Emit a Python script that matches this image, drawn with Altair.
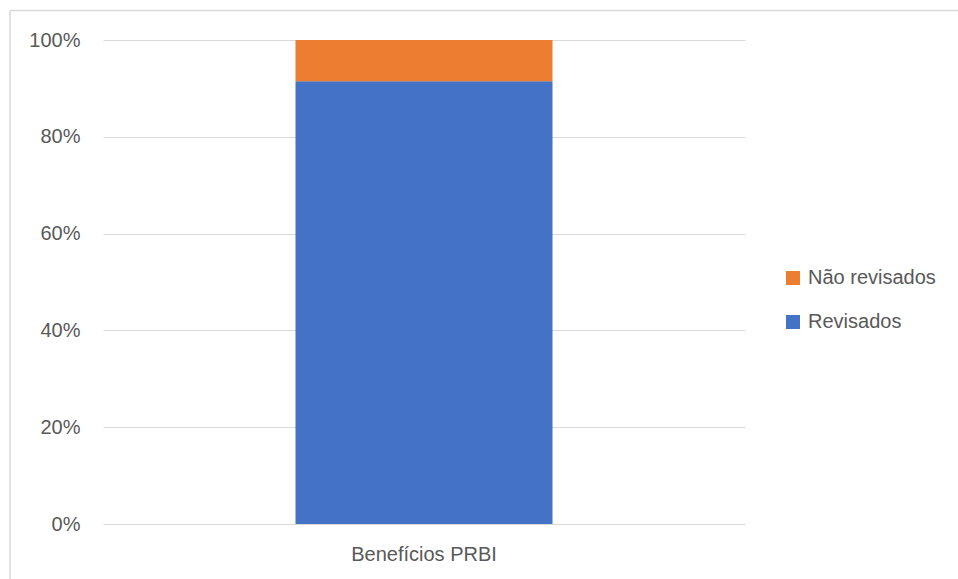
import altair as alt
import pandas as pd

categories = ["Benefícios PRBI"]
series = ["Revisados", "Não revisados"]
values = [0.915, 0.085]
stack_order = [0, 1]
legend_order = ["Não revisados", "Revisados"]
legend_colors = ["#ED7D31", "#4472C4"]
y_ticks = [0, 0.2, 0.4, 0.6, 0.8, 1.0]

df = pd.DataFrame({
    "categoria": categories * len(series),
    "serie": series,
    "valor": values,
    "ordem": stack_order,
})

W, H = 642, 484
FONT = "Liberation Sans"
TXT = "#595959"
GRID = "#d9d9d9"

bars = alt.Chart(df).mark_bar(size=257).encode(
    x=alt.X("categoria:N", title=None,
            axis=alt.Axis(labelAngle=0, labelFontSize=20, labelColor=TXT, labelFont=FONT,
                          labelPadding=20, ticks=False, domain=False)),
    y=alt.Y("valor:Q", stack="zero", title=None,
            scale=alt.Scale(domain=[0, 1], nice=False),
            axis=alt.Axis(values=y_ticks, format=".0%", domain=False, ticks=False,
                          gridColor=GRID, gridWidth=1, labelPadding=23,
                          labelFontSize=20, labelColor=TXT, labelFont=FONT)),
    color=alt.Color("serie:N",
                    scale=alt.Scale(domain=legend_order, range=legend_colors),
                    legend=alt.Legend(title=None, orient="none", legendX=680, legendY=228,
                                      symbolType="square", symbolSize=196,
                                      symbolStrokeWidth=0, labelFontSize=20,
                                      labelColor=TXT, labelFont=FONT,
                                      rowPadding=24, labelOffset=5, padding=0)),
    order=alt.Order("ordem:Q"),
)

frame_df = pd.DataFrame({"k": [0]})
left_line = alt.Chart(frame_df).mark_rule(color=GRID, strokeWidth=1.5).encode(
    x=alt.value(-93), y=alt.value(-29.5), y2=alt.value(H + 100))
top_line = alt.Chart(frame_df).mark_rule(color=GRID, strokeWidth=1.5).encode(
    x=alt.value(-93), x2=alt.value(W + 300), y=alt.value(-29.5))

chart = alt.layer(bars, left_line, top_line).properties(
    width=W, height=H,
    autosize=alt.AutoSizeParams(type="none"),
    padding={"left": 103, "top": 40, "right": 213, "bottom": 55},
    background="white",
).configure_view(stroke=None)

chart.save("out.html", embed_options={"renderer": "svg", "actions": False})
